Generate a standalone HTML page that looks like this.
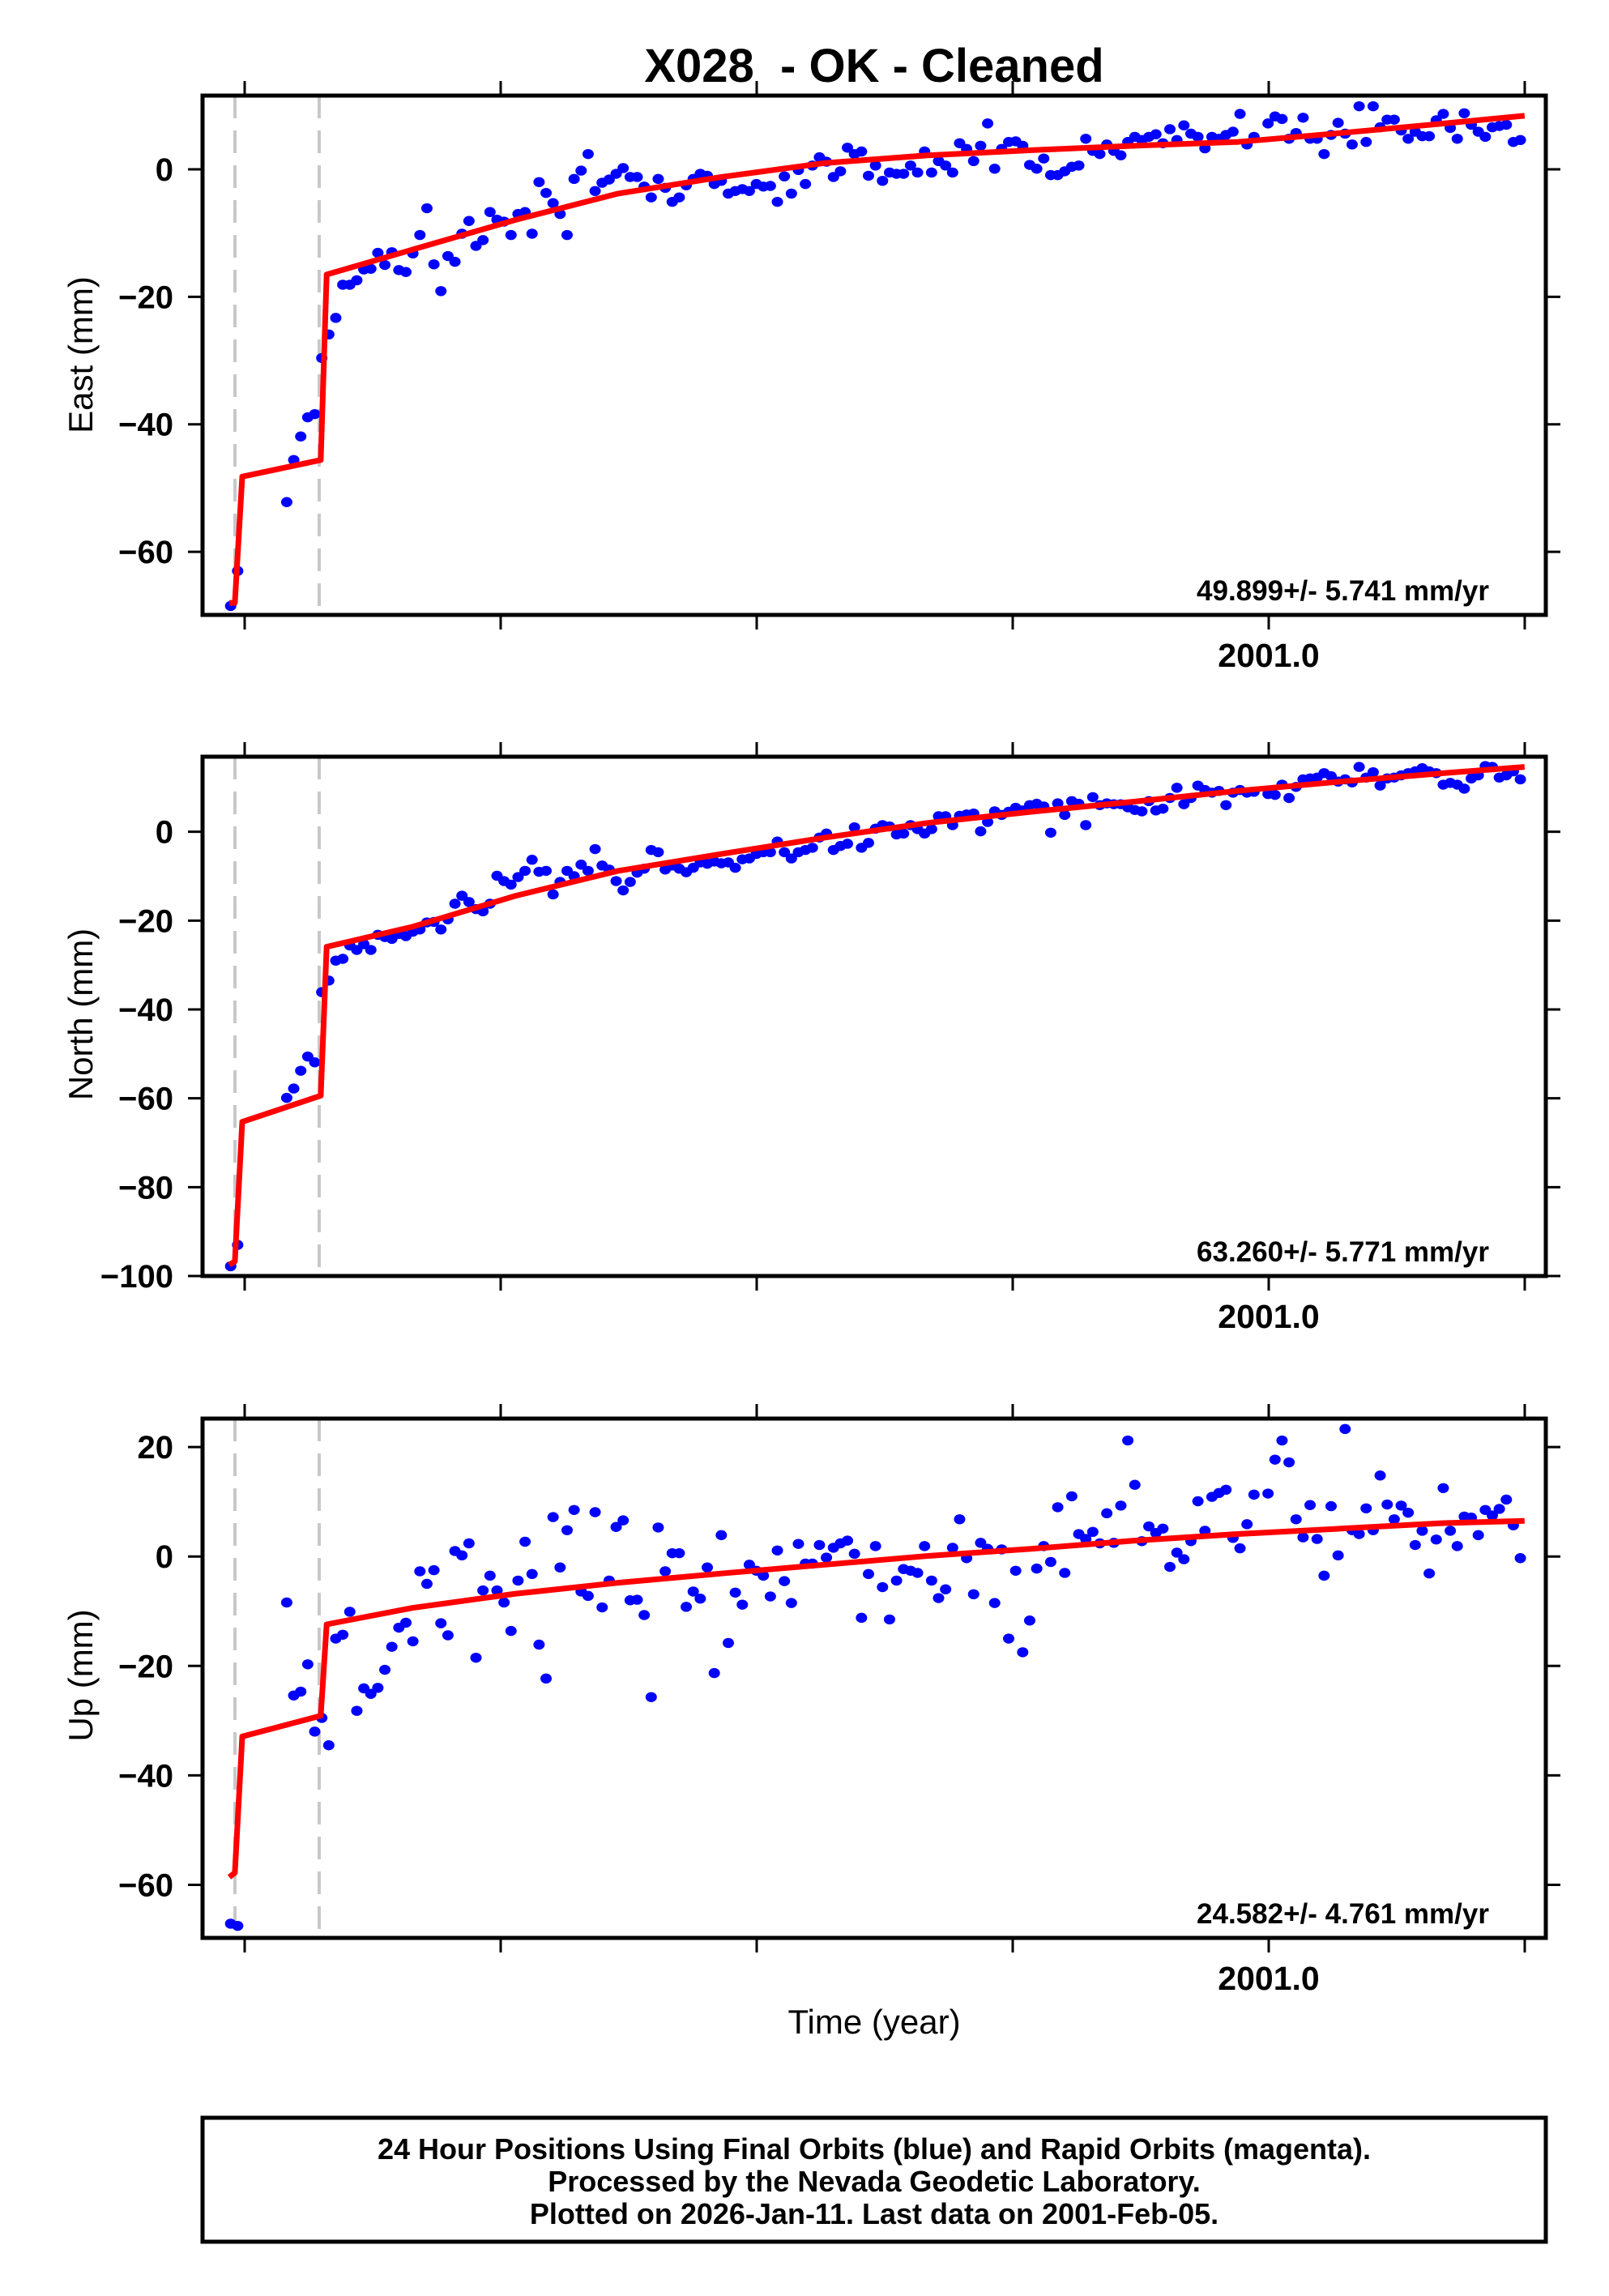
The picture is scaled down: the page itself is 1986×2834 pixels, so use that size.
<!DOCTYPE html>
<html>
<head>
<meta charset="utf-8">
<style>
  html,body{margin:0;padding:0;background:#fff;}
  svg{display:block;}
  text{font-family:"Liberation Sans",Arial,sans-serif;}
</style>
</head>
<body>
<svg id="chart" xmlns="http://www.w3.org/2000/svg" width="1986" height="2834" viewBox="0 0 1986 2834">
  <rect x="0" y="0" width="1986" height="2834" fill="#fff"/>
  <text x="1079" y="101" font-size="58" font-weight="bold" text-anchor="middle" xml:space="preserve">X028  - OK - Cleaned</text>
  <text x="1079" y="2510" font-size="42" text-anchor="middle">Time (year)</text>
  <g>
    <rect x="250" y="2614" width="1658" height="153" fill="none" stroke="#000" stroke-width="5"/>
    <text x="1079" y="2665" font-size="36" font-weight="bold" text-anchor="middle">24 Hour Positions Using Final Orbits (blue) and Rapid Orbits (magenta).</text>
    <text x="1079" y="2705" font-size="36" font-weight="bold" text-anchor="middle">Processed by the Nevada Geodetic Laboratory.</text>
    <text x="1079" y="2745" font-size="36" font-weight="bold" text-anchor="middle">Plotted on 2026-Jan-11. Last data on 2001-Feb-05.</text>
  </g>
</svg>
<script>
// ---- data ----
const T0 = 2000.6;
const days = [-2,-1,
6,7,8,9,10,11,12,13,14,15,16,17,18,19,20,21,22,23,24,25,26,27,28,29,30,31,32,33,34,35,36,37,38,39,40,41,42,43,44,45,46,47,48,49,50,
51,52,53,54,55,56,57,58,59,60,61,62,63,64,65,66,67,68,69,70,71,72,73,74,75,76,77,78,79,80,81,82,83,84,85,86,87,88,89,90,91,92,93,94,95,96,97,98,99,100,
101,102,103,104,105,106,107,108,109,110,111,112,113,114,115,116,117,118,119,120,121,122,123,124,125,126,127,128,129,130,131,132,133,134,135,136,137,138,139,140,141,142,143,144,
146,147,148,149,150,151,152,153,154,155,156,157,158,159,160,161,162,163,164,165,166,167,168,169,170,171,172,173,174,175,176,177,178,179,180,181,182];
const eastVals = [-68.5,-63,
-52.2,-45.6,-41.9,-38.9,-38.4,-29.6,-25.9,-23.3,-18.1,-18.1,
-17.4,-15.7,-15.6,-13.1,-15.0,-13,-15.8,-16.1,-13.2,-10.3,
-6.1,-14.9,-19.1,-13.6,-14.5,-10.1,-8.1,-12,-11.1,-6.7,
-7.9,-8.2,-10.3,-7,-6.7,-10.1,-2,-3.7,-5.3,-7,
-10.3,-1.5,-0.2,2.4,-3.4,-2.1,-1.6,-0.7,0.2,-1.2,
-1.2,-2.7,-4.4,-1.5,-2.9,-5.1,-4.4,-2.5,-1.5,-0.7,
-1,-2.3,-1.8,-3.8,-3.4,-3.1,-3.4,-2.3,-2.7,-2.6,
-5.1,-1.1,-3.8,-0.1,-2.3,0.6,1.9,1.2,-1.2,-0.3,
3.4,2.4,2.8,-1,0.6,-1.8,-0.5,-0.7,-0.7,0.6,
-0.5,2.8,-0.5,1.3,0.6,-0.5,4.1,3.2,1.3,3.7,
7.2,0.1,3.2,4.3,4.4,3.7,0.7,0.1,1.7,-0.9,
-0.9,-0.3,0.4,0.6,4.8,2.9,2.4,3.9,2.9,2.2,
4.3,5.1,4.6,5.1,5.5,4.1,6.3,4.6,6.9,5.6,
5.1,3.3,5.1,4.8,5.4,5.9,8.7,3.9,5.1,
7.2,8.3,7.9,4.8,5.7,8.1,4.8,4.8,2.4,5.4,
7.3,5.6,3.9,9.9,4.3,9.9,6.6,7.8,7.8,6.1,
4.8,5.9,5.2,5.2,7.7,8.7,6.5,4.8,8.8,7,
5.9,5.1,6.6,6.8,7,4.3,4.6];
const northVals = [-97.8,-93,
-59.9,-57.8,-53.8,-50.6,-51.9,-36.1,-33.5,-29,-28.6,-25.6,
-26.6,-25.3,-26.6,-23.2,-23.7,-24.1,-23,-23.5,-22.5,-22,
-20.4,-20.3,-22,-19.7,-16.2,-14.4,-15.8,-17.4,-17.9,-16.2,
-9.9,-11.1,-11.9,-10.2,-8.8,-6.3,-9,-8.8,-14.1,-11.3,
-8.8,-10,-7.4,-8.8,-3.9,-7.6,-8.5,-11.1,-13.2,-11.3,
-9.2,-8.3,-4.1,-4.6,-8.5,-7.6,-8.3,-9.1,-8.1,-6.9,
-7.2,-6.7,-7.1,-6.9,-8.1,-6.2,-6,-5,-4.6,-4.6,
-2.2,-4.6,-6,-4.6,-4.1,-3.6,-1.3,-0.4,-4.1,-3.2,
-2.7,1,-3.6,-2.5,0.7,1.5,1.2,-0.6,-0.4,1.5,
0.6,-0.4,0.6,3.5,3.5,1.5,3.6,3.9,4.1,0.1,
2.2,4.6,3.8,4.5,5.4,4.8,6,6.3,5.7,-0.2,
6.4,3.8,6.9,6.3,1.5,7.8,6,6.4,6.2,6.2,
5.5,4.9,4.6,6.9,4.8,5.2,7.6,9.9,6.2,7.6,
10.4,9.4,8.8,9.2,6,8.8,9.4,8.8,9,
8.5,8.3,10.6,7.6,10.1,11.8,12,12.2,13.2,12.5,
11.3,11.8,11.1,14.6,12.2,13.4,10.4,12,12.2,12.7,
13.2,13.6,14.3,13.6,13.2,10.6,11,10.6,9.7,12,
12.7,14.8,14.6,12.2,12.7,13.6,11.8];
const upVals = [-67.1,-67.5,
-8.4,-25.4,-24.7,-19.7,-32,-29.5,-34.5,-15,-14.3,-10.1,
-28.2,-24.1,-25.1,-24,-20.7,-16.5,-13,-12.1,-15.5,-2.7,
-5,-2.5,-12.2,-14.4,1,0.2,2.4,-18.5,-6.2,-3.5,
-6.2,-8.4,-13.6,-4.4,2.7,-3.2,-16.1,-22.3,7.2,-2,
4.8,8.5,-6.4,-7.2,8.1,-9.3,-4.4,5.4,6.6,-8,
-7.9,-10.7,-25.7,5.3,-2.7,0.6,0.6,-9.2,-6.4,-7.7,
-2,-21.3,3.9,-15.8,-6.6,-8.8,-1.5,-2.6,-3.5,-7.3,
1.1,-4.5,-8.5,2.3,-1.3,-1.3,2.1,-0.2,1.6,2.4,
2.9,0.5,-11.2,-3.2,1.9,-5.6,-11.5,-4.4,-2.3,-2.6,
-3,1.9,-4.4,-7.6,-6,1.6,6.8,-0.3,-6.9,2.5,
1.4,-8.5,1.3,-15,-2.6,-17.5,-11.7,-2.2,1.9,-1,
9,-3,11,4.1,3.2,4.5,2.4,7.9,2.5,9.3,
21.2,13.1,2.8,5.5,4.3,5.1,-1.9,0.7,-0.5,2.8,
10.1,4.7,10.9,11.6,12.2,3.4,1.5,5.9,11.3,
11.5,17.7,21.2,17.2,6.8,3.5,9.4,3.2,-3.5,9.2,
0.2,23.3,4.8,4.1,8.8,4.8,14.8,9.5,6.8,9.3,
8,2.1,4.7,-3.1,3.1,12.5,4.7,1.9,7.3,7.1,
3.9,8.5,7.5,8.7,10.4,5.7,-0.3];
const modelDays = [-2.2,-1.4,-0.35,10.85,11.7,23.9,38.7,53.3,68,82.8,97.5,112.2,127,141.7,156.4,171.1,182.6];
const eastModel = [-68,-68,-48.2,-45.6,-16.5,-12.6,-7.9,-3.8,-1.2,1,2.2,3,3.7,4.3,5.7,7.2,8.4];
const northModel = [-97.5,-96.7,-65.3,-59.4,-25.9,-21.4,-14.4,-8.8,-5,-1.3,2,4.5,6.8,9.2,11.3,13.2,14.6];
const upModel = [-58.6,-57.8,-32.9,-29.1,-12.4,-9.4,-6.8,-4.8,-3.1,-1.5,0.1,1.4,2.9,4.1,5.1,6.1,6.5];
const breakYears = [2000.5962, 2000.6291];
const xTickYears = [2000.6,2000.7,2000.8,2000.9,2001.0,2001.1];
const xTickLabels = ["","","","","2001.0",""];
const eastTicks = [0,-20,-40,-60];
const northTicks = [0,-20,-40,-60,-80,-100];
const upTicks = [20,0,-20,-40,-60];
const rateLabels = ["49.899+/- 5.741 mm/yr","63.260+/- 5.771 mm/yr","24.582+/- 4.761 mm/yr"];

// ---- layout ----
const NS = "http://www.w3.org/2000/svg";
const svg = document.getElementById('chart');
const L = 250, R = 1908;
const X0YEAR = 2000.6, X0PX = 302, PXPERYR = 3160;
function xScale(year){ return X0PX + (year - X0YEAR) * PXPERYR; }
function dayToYear(d){ return T0 + d / 365.25; }
function mk(tag, attrs, parent){
  const e = document.createElementNS(NS, tag);
  for (const k in attrs) e.setAttribute(k, attrs[k]);
  (parent || svg).appendChild(e);
  return e;
}
const panels = [
  {key:'east', top:118, bottom:759, ymin:-69.9, ymax:11.57, ticks:eastTicks, vals:eastVals, model:eastModel, title:'East (mm)', titleY:438},
  {key:'north', top:934, bottom:1575, ymin:-100, ymax:16.9, ticks:northTicks, vals:northVals, model:northModel, title:'North (mm)', titleY:1252},
  {key:'up', top:1751, bottom:2392, ymin:-69.7, ymax:25.2, ticks:upTicks, vals:upVals, model:upModel, title:'Up (mm)', titleY:2068}
];

panels.forEach(function(p, pi){
  function yScale(v){ return p.bottom - (v - p.ymin) / (p.ymax - p.ymin) * (p.bottom - p.top); }
  const g = mk('g', {});
  
  

  const clipId = 'clip-' + p.key;
  const cp = mk('clipPath', {id: clipId}, g);
  mk('rect', {x:L, y:p.top, width:R-L, height:p.bottom-p.top}, cp);

  breakYears.forEach(function(by, bi){
    const bx = xScale(by);
    const ln = mk('line', {x1:bx, x2:bx, y1:p.top, y2:p.bottom, stroke:'#c8c8c8', 'stroke-width':4, 'stroke-dasharray':'28 15'}, g);
    
    
  });

  const dg = mk('g', {'clip-path':'url(#'+clipId+')'}, g);
  
  
  const n = Math.min(days.length, p.vals.length);
  for (let i = 0; i < n; i++){
    const c = mk('ellipse', {cx:xScale(dayToYear(days[i])), cy:yScale(p.vals[i]), rx:7, ry:6.2, fill:'#0000ff'}, dg);
    
    
  }

  let d = '';
  for (let i = 0; i < modelDays.length; i++){
    d += (i ? 'L' : 'M') + xScale(dayToYear(modelDays[i])).toFixed(1) + ' ' + yScale(p.model[i]).toFixed(1);
  }
  const ml = mk('path', {d:d, fill:'none', stroke:'#ff0000', 'stroke-width':7, 'stroke-linejoin':'round', 'clip-path':'url(#'+clipId+')'}, g);
  
  

  const fr = mk('rect', {x:L, y:p.top, width:R-L, height:p.bottom-p.top, fill:'none', stroke:'#000', 'stroke-width':5}, g);
  
  

  p.ticks.forEach(function(t){
    const y = yScale(t);
    mk('line', {x1:L-18, x2:L, y1:y, y2:y, stroke:'#000', 'stroke-width':3}, g);
    mk('line', {x1:R, x2:R+18, y1:y, y2:y, stroke:'#000', 'stroke-width':3}, g);
    const tl = mk('text', {x:214, y:y+14, 'font-size':40, 'font-weight':'bold', 'text-anchor':'end'}, g);
    tl.textContent = (t < 0 ? '\u2212' + (-t) : String(t));
    
    
  });

  xTickYears.forEach(function(yr, i){
    const x = xScale(yr);
    mk('line', {x1:x, x2:x, y1:p.bottom, y2:p.bottom+18, stroke:'#000', 'stroke-width':3}, g);
    mk('line', {x1:x, x2:x, y1:p.top-18, y2:p.top, stroke:'#000', 'stroke-width':3}, g);
    if (xTickLabels[i]){
      const xl = mk('text', {x:x, y:p.bottom+64, 'font-size':41, 'font-weight':'bold', 'text-anchor':'middle'}, g);
      xl.textContent = xTickLabels[i];
      
      
    }
  });

  const yt = mk('text', {x:0, y:0, 'font-size':42, 'text-anchor':'middle', transform:'translate(114,'+p.titleY+') rotate(-90)'}, g);
  yt.textContent = p.title;
  
  

  const rl = mk('text', {x:1838, y:p.bottom-18, 'font-size':35, 'font-weight':'bold', 'text-anchor':'end'}, g);
  rl.textContent = rateLabels[pi];
  
  
});
</script>
</body>
</html>
